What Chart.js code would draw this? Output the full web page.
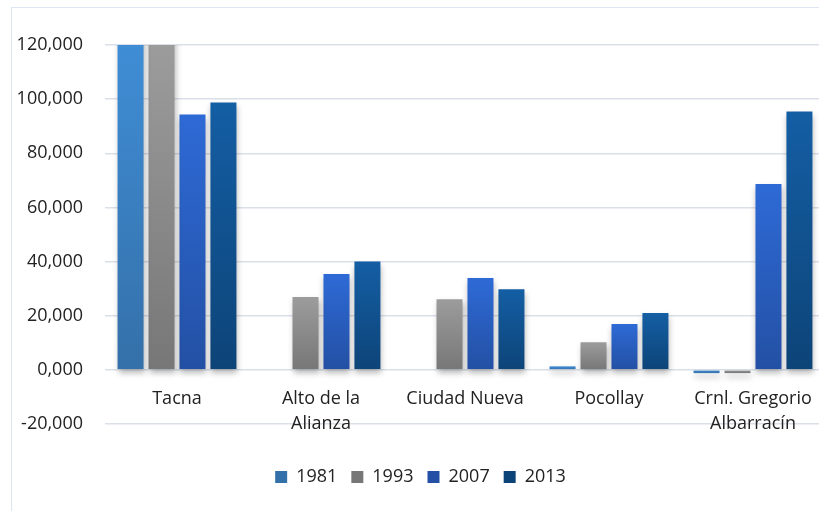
<!DOCTYPE html>
<html>
<head>
<meta charset="utf-8">
<script src="https://cdn.jsdelivr.net/npm/chart.js@4"></script>
<style>
  html, body { margin: 0; padding: 0; background: #fff; overflow: hidden; width: 819px; height: 511px; }
  #frame { position: absolute; left: 11px; top: 7px; width: 826px; height: 520px; border: 1px solid #dce6f2; }
  #chart { display: block; }
</style>
</head>
<body>
<div id="frame"><canvas id="chart" width="826" height="503"></canvas></div>
<script>
// datos
const districts = [["Tacna"], ["Alto de la", "Alianza"], ["Ciudad Nueva"], ["Pocollay"], ["Crnl. Gregorio", "Albarracín"]];
const years = ["1981", "1993", "2007", "2013"];
const pop1981 = [130000, null, null, 1300, -1200];
const pop1993 = [150000, 26900, 26100, 10200, -1200];
const pop2007 = [94300, 35400, 33900, 16900, 68700];
const pop2013 = [98800, 40000, 29800, 21000, 95400];
const yTickLabels = ["-20,000", "0,000", "20,000", "40,000", "60,000", "80,000", "100,000", "120,000"];

// colores (arriba, abajo, leyenda)
const palette = [
  ["#3f8dd5", "#3470a9", "#3a80c4"],
  ["#9c9c9c", "#777777", "#8a8a8a"],
  ["#2e6ad6", "#2350a4", "#2a5dc0"],
  ["#145ea4", "#0d4478", "#11518e"],
];

function barGradient(cols) {
  return (c) => {
    const chart = c.chart;
    if (!chart.chartArea || c.type !== "data" || c.raw == null) return cols[2];
    const y = chart.scales.y;
    const v = Math.max(Math.min(c.raw, y.max), y.min);
    const top = y.getPixelForValue(v);
    const base = y.getPixelForValue(0);
    if (Math.abs(top - base) < 1) return cols[0];
    const g = chart.ctx.createLinearGradient(0, Math.min(top, base), 0, Math.max(top, base));
    g.addColorStop(0, cols[0]);
    g.addColorStop(1, cols[1]);
    return g;
  };
}

// sombra suave debajo de las barras
const barShadow = {
  id: "barShadow",
  beforeDatasetsDraw(chart) {
    const ctx = chart.ctx;
    ctx.save();
    ctx.shadowColor = "rgba(0,0,0,0.28)";
    ctx.shadowBlur = 6;
    ctx.shadowOffsetX = 1;
    ctx.shadowOffsetY = 4;
  },
  afterDatasetsDraw(chart) {
    chart.ctx.restore();
  },
};

const series = [pop1981, pop1993, pop2007, pop2013];

new Chart(document.getElementById("chart").getContext("2d"), {
  type: "bar",
  data: {
    labels: districts,
    datasets: series.map((vals, i) => ({
      label: years[i],
      data: vals,
      backgroundColor: barGradient(palette[i]),
      borderWidth: 0,
      categoryPercentage: 0.86,
      barPercentage: 0.84,
    })),
  },
  options: {
    responsive: false,
    animation: false,
    layout: { padding: { top: 37, right: 13, left: 4, bottom: 15 } },
    plugins: {
      tooltip: { enabled: false },
      legend: {
        position: "bottom",
        // titulo vacio: solo deja espacio entre el eje y la leyenda
        title: { display: true, text: " ", padding: 0, font: { size: 25, lineHeight: 1.2 } },
        labels: {
          boxWidth: 12,
          boxHeight: 12,
          padding: 14,
          color: "#222",
          font: { family: "Open Sans", size: 18 },
        },
      },
    },
    scales: {
      x: {
        position: { y: 0 },
        grid: { display: false },
        border: { display: false },
        ticks: {
          color: "#222",
          padding: 9,
          maxRotation: 0,
          autoSkip: false,
          font: { family: "Open Sans", size: 18, lineHeight: 1.36 },
        },
      },
      y: {
        min: -20000,
        max: 120000,
        afterFit: (s) => { s.width = 89; },
        grid: { color: "#dadfe8", lineWidth: 1.5, drawTicks: false },
        border: { display: false },
        ticks: {
          stepSize: 20000,
          padding: 22,
          color: "#222",
          font: { family: "Open Sans", size: 18 },
          callback: (v, i) => yTickLabels[i],
        },
      },
    },
  },
  plugins: [barShadow],
});
</script>
</body>
</html>
